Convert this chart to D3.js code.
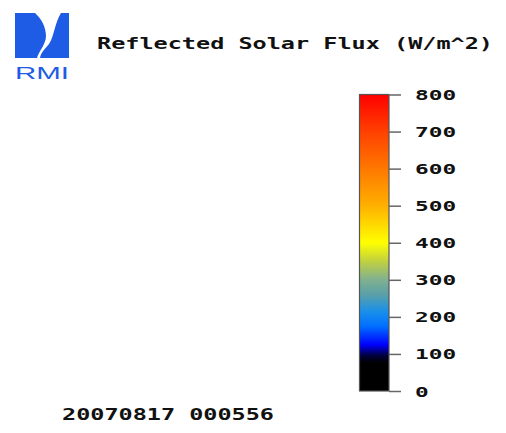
<!DOCTYPE html>
<html>
<head>
<meta charset="utf-8">
<script src="https://cdn.jsdelivr.net/npm/d3@7/dist/d3.min.js"></script>
<style>
  html, body { margin: 0; padding: 0; background: #fff; }
  svg { display: block; }
</style>
</head>
<body>
<svg id="chart" width="506" height="433"></svg>
<script>
// Colour bar for reflected solar flux
const titleText = "Reflected Solar Flux (W/m^2)";
const stampText = "20070817 000556";
const tickValues = [0, 100, 200, 300, 400, 500, 600, 700, 800];
const tickLabels = ["0", "100", "200", "300", "400", "500", "600", "700", "800"];
const stopValues = [0, 75, 95, 125, 175, 215, 260, 300, 350, 400, 500, 600, 700, 800];
const stopColors = ["#000000", "#000000", "#00003a", "#0000ff", "#0070ff", "#1a90e8",
                    "#5aa0a8", "#80b090", "#c0d040", "#ffff00", "#ffb000", "#ff7800",
                    "#ff4000", "#ff0000"];

const svg = d3.select("#chart");
const mono = "'DejaVu Sans Mono', 'Liberation Mono', monospace";

// value -> vertical position on the bar
const y = d3.scaleLinear().domain([0, 800]).range([391, 94.5]);
const barX0 = 359.5, barX1 = 389;

// gradient built from the stops
const grad = svg.append("defs").append("linearGradient")
  .attr("id", "flux").attr("x1", 0).attr("x2", 0).attr("y1", 1).attr("y2", 0);
const off = d3.scaleLinear().domain([0, 800]).range([0, 100]);
grad.selectAll("stop").data(stopValues).join("stop")
  .attr("offset", d => off(d) + "%")
  .attr("stop-color", (d, i) => stopColors[i]);

svg.append("rect")
  .attr("x", barX0).attr("y", y(800))
  .attr("width", barX1 - barX0).attr("height", y(0) - y(800))
  .attr("fill", "url(#flux)")
  .attr("stroke", "#555").attr("stroke-width", 1.2);

// axis on the right of the bar
const axis = d3.axisRight(y).tickValues(tickValues).tickSize(12).tickPadding(14)
  .tickFormat((d, i) => tickLabels[i]);
const g = svg.append("g").attr("transform", `translate(${barX1},0)`).call(axis);
g.select(".domain").remove();
g.selectAll(".tick line").attr("stroke", "#666").attr("stroke-width", 1.5);
g.selectAll(".tick text")
  .attr("font-family", mono).attr("font-weight", "bold").attr("font-size", 14)
  .attr("fill", "#111").attr("dy", "0.36em")
  .attr("textLength", d => String(d).length * 13.7 - 0)
  .attr("lengthAdjust", "spacingAndGlyphs");

// title
svg.append("text")
  .attr("x", 97).attr("y", 49)
  .attr("font-family", mono).attr("font-weight", "bold").attr("font-size", 15)
  .attr("fill", "#111")
  .attr("textLength", 396).attr("lengthAdjust", "spacingAndGlyphs")
  .text(titleText);

// time stamp
svg.append("text")
  .attr("x", 62).attr("y", 420)
  .attr("font-family", mono).attr("font-weight", "bold").attr("font-size", 15)
  .attr("fill", "#111")
  .attr("textLength", 212).attr("lengthAdjust", "spacingAndGlyphs")
  .text(stampText);

// RMI logo
const logo = svg.append("g").attr("transform", "translate(15,13)");
const blue = "#1f5ce6";
logo.append("path").attr("fill", blue)
  .attr("d", "M0,0 L20,0 C27,6 31,15 31,23 C31,31 24,38 22,45 L0,45 Z");
logo.append("path").attr("fill", blue)
  .attr("d", "M46,0 L54,0 L54,45 L25,45 C26,39 31,35 34,31 C39,24 40,9 46,0 Z");
logo.append("text")
  .attr("x", 0).attr("y", 66)
  .attr("font-family", "'Liberation Sans', Arial, sans-serif")
  .attr("font-size", 17).attr("fill", blue)
  .attr("textLength", 54).attr("lengthAdjust", "spacingAndGlyphs")
  .text("RMI");
</script>
</body>
</html>
